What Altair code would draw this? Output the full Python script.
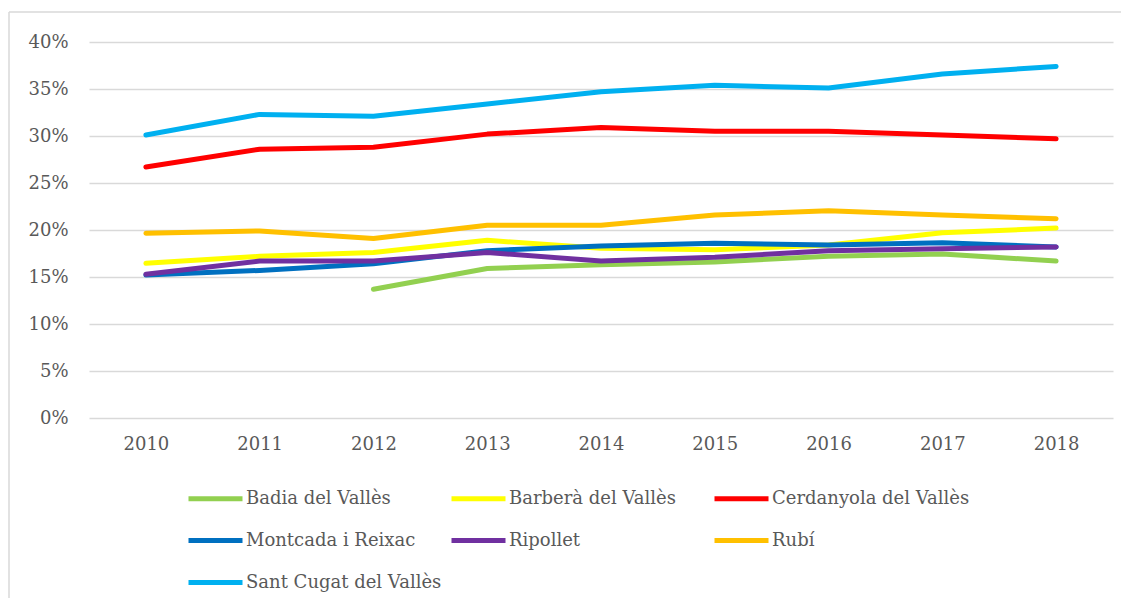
import altair as alt
import pandas as pd

years = [2010, 2011, 2012, 2013, 2014, 2015, 2016, 2017, 2018]
series_names = [
    "Badia del Vallès",
    "Barberà del Vallès",
    "Cerdanyola del Vallès",
    "Montcada i Reixac",
    "Ripollet",
    "Rubí",
    "Sant Cugat del Vallès",
]
colors = ["#92D050", "#FFFF00", "#FF0000", "#0070C0", "#7030A0", "#FFC000", "#00B0F0"]

badia = [None, None, 0.137, 0.159, 0.163, 0.166, 0.172, 0.1745, 0.167]
barbera = [0.1645, 0.172, 0.176, 0.189, 0.1805, 0.179, 0.184, 0.197, 0.202]
cerdanyola = [0.267, 0.286, 0.288, 0.302, 0.309, 0.305, 0.305, 0.301, 0.297]
montcada = [0.152, 0.157, 0.164, 0.178, 0.183, 0.186, 0.184, 0.1865, 0.182]
ripollet = [0.153, 0.167, 0.167, 0.176, 0.167, 0.171, 0.178, 0.180, 0.182]
rubi = [0.1965, 0.199, 0.191, 0.205, 0.205, 0.216, 0.2205, 0.216, 0.212]
santcugat = [0.301, 0.323, 0.321, 0.334, 0.347, 0.354, 0.351, 0.366, 0.374]

all_series = [badia, barbera, cerdanyola, montcada, ripollet, rubi, santcugat]

rows = []
for i, (name, vals) in enumerate(zip(series_names, all_series)):
    for y, v in zip(years, vals):
        if v is not None:
            rows.append({"Municipi": name, "Any": str(y), "Valor": v, "ord": i})
df = pd.DataFrame(rows)

FONT = "DejaVu Serif"
GRAY = "#595959"

lines = alt.Chart(df).mark_line(strokeWidth=5, strokeCap="round", strokeJoin="round").encode(
    x=alt.X("Any:O", title=None,
            scale=alt.Scale(type="point", padding=0.5),
            axis=alt.Axis(labelAngle=0, tickSize=0, domain=False, grid=False,
                          labelPadding=17, labelFontSize=18, labelFont=FONT, labelColor=GRAY)),
    y=alt.Y("Valor:Q", title=None,
            scale=alt.Scale(domain=[0, 0.4], nice=False),
            axis=alt.Axis(values=[0, 0.05, 0.1, 0.15, 0.2, 0.25, 0.3, 0.35, 0.4], format=".0%",
                          tickSize=0, domain=False, grid=True, gridColor="#d9d9d9", gridWidth=1.5,
                          labelPadding=21, labelFontSize=18, labelFont=FONT, labelColor=GRAY)),
    color=alt.Color("Municipi:N", title=None,
                    scale=alt.Scale(domain=series_names, range=colors),
                    legend=alt.Legend(orient="none", legendX=97, legendY=427, columns=3,
                                      direction="horizontal",
                                      symbolType="stroke", symbolSize=2916, symbolStrokeWidth=5,
                                      gridAlign="all", columnPadding=-3, rowPadding=2,
                                      labelFont=FONT, labelFontSize=18, labelColor=GRAY,
                                      labelOffset=1, labelLimit=400)),
    order=alt.Order("ord:Q"),
    detail="Municipi:N",
)

border_left = alt.Chart(pd.DataFrame({"a": [0]})).mark_rule(color="#d9d9d9", strokeWidth=1.5).encode(
    x=alt.value(-80), y=alt.value(-30), y2=alt.value(600)
)
border_top = alt.Chart(pd.DataFrame({"a": [0]})).mark_rule(color="#d9d9d9", strokeWidth=1.5).encode(
    x=alt.value(-80), x2=alt.value(1100), y=alt.value(-30)
)

chart = alt.layer(border_left, border_top, lines).properties(
    width=1024, height=376,
    autosize=alt.AutoSizeParams(type="none"),
    padding={"left": 81, "top": 34, "right": 8, "bottom": 180},
).configure_view(stroke=None)

chart.save("out.html", embed_options={"renderer": "svg", "actions": False})
